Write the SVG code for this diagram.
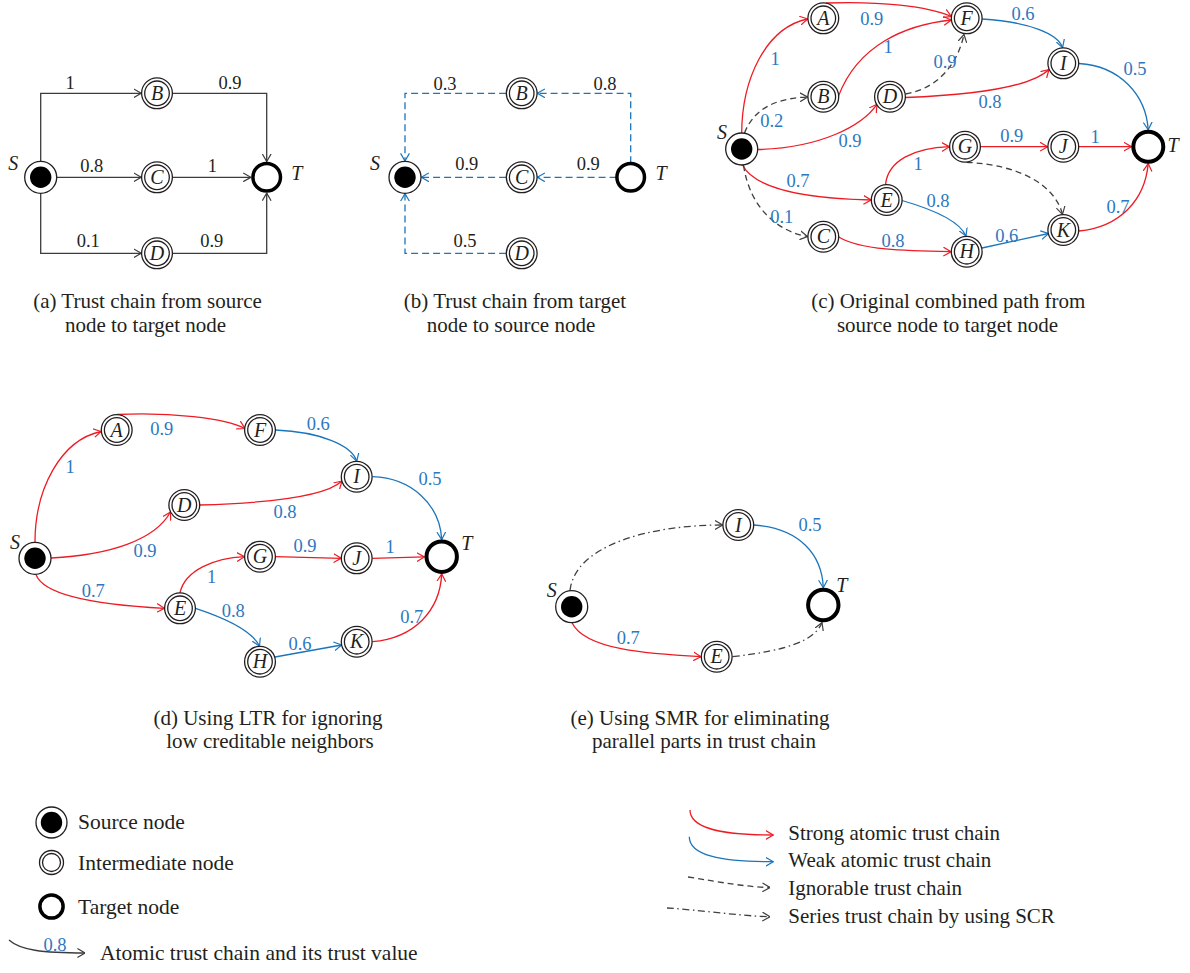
<svg xmlns="http://www.w3.org/2000/svg" width="1190" height="973" viewBox="0 0 1190 973">
<style>
text{font-family:"Liberation Serif","Times New Roman",serif;}
.o{fill:#fff;stroke:#231f20;stroke-width:1.3}
.sf{fill:#000}
.t{fill:#fff;stroke:#000;stroke-width:4}
.ta{fill:#fff;stroke:#000;stroke-width:3.5}
.nl{font-size:20px;font-style:italic;text-anchor:middle;fill:#231f20}
.st{font-size:20px;font-style:italic;fill:#231f20}
.lb{font-size:18.5px;text-anchor:middle;fill:#2e78bf}
.lk{font-size:18.5px;text-anchor:middle;fill:#231f20}
.cap{font-size:21px;text-anchor:middle;fill:#231f20}
.leg{font-size:21.5px;fill:#231f20}
.legr{font-size:21px;fill:#231f20}
.e{fill:none;stroke-width:1.3}
.k{stroke:#3c3c3c;marker-end:url(#mk)}
.r{stroke:#ed1c24;marker-end:url(#mr)}
.b{stroke:#1b75bb;marker-end:url(#mb)}
.bd{stroke:#1b75bb;stroke-dasharray:7 4;marker-end:url(#mb)}
.g{stroke:#404040;stroke-dasharray:6 4;marker-end:url(#mg)}
.dd{stroke:#404040;stroke-dasharray:7 3.5 1.5 3.5;marker-end:url(#mg)}
</style>
<defs>
<marker id="mk" viewBox="0 0 8 10" refX="7.6" refY="5" markerWidth="8" markerHeight="10" orient="auto" markerUnits="userSpaceOnUse"><path d="M0,0.6 L7.6,5 L0,9.4" fill="none" stroke="#3c3c3c" stroke-width="1.2"/></marker>
<marker id="mr" viewBox="0 0 8 10" refX="7.6" refY="5" markerWidth="8" markerHeight="10" orient="auto" markerUnits="userSpaceOnUse"><path d="M0,0.6 L7.6,5 L0,9.4" fill="none" stroke="#ed1c24" stroke-width="1.2"/></marker>
<marker id="mb" viewBox="0 0 8 10" refX="7.6" refY="5" markerWidth="8" markerHeight="10" orient="auto" markerUnits="userSpaceOnUse"><path d="M0,0.6 L7.6,5 L0,9.4" fill="none" stroke="#1b75bb" stroke-width="1.2"/></marker>
<marker id="mg" viewBox="0 0 8 10" refX="7.6" refY="5" markerWidth="8" markerHeight="10" orient="auto" markerUnits="userSpaceOnUse"><path d="M0,0.6 L7.6,5 L0,9.4" fill="none" stroke="#404040" stroke-width="1.2"/></marker>
</defs>
<rect width="1190" height="973" fill="#fff"/>

<!-- ===== Panel (a) ===== -->
<g id="edges-a">
<path class="e k" d="M40.7,161 V93.3 H141.2"/>
<path class="e k" d="M172.6,93.3 H266.7 V161.5"/>
<path class="e k" d="M57,177.3 H141.2"/>
<path class="e k" d="M172.6,177.3 H250.8"/>
<path class="e k" d="M40.7,193.6 V253.3 H141.2"/>
<path class="e k" d="M172.6,253.3 H266.7 V193.1"/>
<text class="lk" x="70" y="88.5">1</text>
<text class="lk" x="230" y="88.5">0.9</text>
<text class="lk" x="91.7" y="171.5">0.8</text>
<text class="lk" x="212.3" y="171.5">1</text>
<text class="lk" x="88.3" y="246.5">0.1</text>
<text class="lk" x="211.7" y="246.5">0.9</text>
</g>
<g id="a-S"><circle class="o" cx="40.7" cy="177.3" r="16"/><circle class="sf" cx="40.7" cy="177.3" r="10.7"/><text class="st" x="13.3" y="170" text-anchor="middle">S</text></g>
<g id="a-B"><circle class="o" cx="157" cy="93.3" r="15.4"/><circle class="o" cx="157" cy="93.3" r="12.3"/><text class="nl" x="157" y="100">B</text></g>
<g id="a-C"><circle class="o" cx="157" cy="177.3" r="15.4"/><circle class="o" cx="157" cy="177.3" r="12.3"/><text class="nl" x="157" y="184">C</text></g>
<g id="a-D"><circle class="o" cx="157" cy="253.3" r="15.4"/><circle class="o" cx="157" cy="253.3" r="12.3"/><text class="nl" x="157" y="260">D</text></g>
<g id="a-T"><circle class="ta" cx="266.7" cy="177.3" r="13.8"/><text class="st" x="296.7" y="180" text-anchor="middle">T</text></g>
<g id="cap-a"><text class="cap" x="147.5" y="308">(a) Trust chain from source</text><text class="cap" x="145.5" y="331.5">node to target node</text></g>

<!-- ===== Panel (b) ===== -->
<g id="edges-b">
<path class="e bd" d="M630.7,163.2 V93.3 H537.3"/>
<path class="e bd" d="M506.1,93.3 H405 V161"/>
<path class="e bd" d="M616.6,177.3 H537.3"/>
<path class="e bd" d="M506.1,177.3 H421.3"/>
<path class="e bd" d="M506.1,253.3 H405 V193.6"/>
<text class="lk" x="445" y="90">0.3</text>
<text class="lk" x="605" y="90">0.8</text>
<text class="lk" x="466.7" y="170">0.9</text>
<text class="lk" x="588.3" y="170">0.9</text>
<text class="lk" x="465" y="246.7">0.5</text>
</g>
<g id="b-S"><circle class="o" cx="405" cy="177.3" r="16"/><circle class="sf" cx="405" cy="177.3" r="10.7"/><text class="st" x="375" y="170" text-anchor="middle">S</text></g>
<g id="b-B"><circle class="o" cx="521.7" cy="93.3" r="15.4"/><circle class="o" cx="521.7" cy="93.3" r="12.3"/><text class="nl" x="521.7" y="100">B</text></g>
<g id="b-C"><circle class="o" cx="521.7" cy="177.3" r="15.4"/><circle class="o" cx="521.7" cy="177.3" r="12.3"/><text class="nl" x="521.7" y="184">C</text></g>
<g id="b-D"><circle class="o" cx="521.7" cy="253.3" r="15.4"/><circle class="o" cx="521.7" cy="253.3" r="12.3"/><text class="nl" x="521.7" y="260">D</text></g>
<g id="b-T"><circle class="ta" cx="630.7" cy="177.3" r="13.8"/><text class="st" x="661" y="180" text-anchor="middle">T</text></g>
<g id="cap-b"><text class="cap" x="515" y="308">(b) Trust chain from target</text><text class="cap" x="511" y="331.5">node to source node</text></g>

<!-- ===== Panel (c) ===== -->
<g id="edges-c">
<path class="e r" d="M741.7,133 C742,80 765,28 807.6,19"/>
<path class="e r" d="M826,3 C880,1 928,6 951.3,16.5"/>
<path class="e r" d="M838.5,96 C858,45 905,25 951.3,20"/>
<path class="e g" d="M905.5,94 C940,88 958,62 964,34.5"/>
<path class="e b" d="M982.2,19 C1030,22 1058,34 1062.6,47.6"/>
<path class="e r" d="M905.5,97.5 C970,95 1030,88 1049,69.5"/>
<path class="e b" d="M1079,63.5 C1120,66 1146,95 1148.2,129.8"/>
<path class="e g" d="M744.5,133 C755,106 780,98 807.6,97"/>
<path class="e r" d="M757.7,149.5 C820,148 862,126 877,104.3"/>
<path class="e r" d="M980.6,146.7 L1047.6,146.7"/>
<path class="e r" d="M1078.9,146.7 L1131.4,146.7"/>
<path class="e r" d="M885.5,184.6 C888,160 915,148 949.4,146.7"/>
<path class="e g" d="M966.5,162.3 C1020,165 1055,185 1062.5,214.4"/>
<path class="e r" d="M742.5,165 C758,195 830,199 871.1,200"/>
<path class="e b" d="M902,200.5 C935,210 960,222 966,236"/>
<path class="e g" d="M743.5,165 C750,210 780,232 807.6,236.5"/>
<path class="e r" d="M838.8,237 C860,250 905,251 951,251.7"/>
<path class="e b" d="M982,248 L1048.6,233.5"/>
<path class="e r" d="M1078.9,231 C1120,227 1145,200 1148.2,163.6"/>
<text class="lb" x="871.7" y="25">0.9</text>
<text class="lb" x="775" y="65">1</text>
<text class="lb" x="888" y="53">1</text>
<text class="lb" x="1023" y="20">0.6</text>
<text class="lb" x="945" y="68">0.9</text>
<text class="lb" x="1135" y="75">0.5</text>
<text class="lb" x="771.7" y="127">0.2</text>
<text class="lb" x="990" y="108">0.8</text>
<text class="lb" x="850" y="147">0.9</text>
<text class="lb" x="1011.7" y="142">0.9</text>
<text class="lb" x="1095" y="143">1</text>
<text class="lb" x="918" y="170">1</text>
<text class="lb" x="798" y="187">0.7</text>
<text class="lb" x="938" y="207">0.8</text>
<text class="lb" x="781.7" y="223">0.1</text>
<text class="lb" x="1118" y="213">0.7</text>
<text class="lb" x="893" y="247">0.8</text>
<text class="lb" x="1006.7" y="242">0.6</text>
</g>
<g id="c-S"><circle class="o" cx="741.7" cy="149" r="16"/><circle class="sf" cx="741.7" cy="149" r="10.7"/><text class="st" x="727" y="139" text-anchor="end">S</text></g>
<g id="c-A"><circle class="o" cx="823.3" cy="18.3" r="15.4"/><circle class="o" cx="823.3" cy="18.3" r="12.3"/><text class="nl" x="823.3" y="25">A</text></g>
<g id="c-F"><circle class="o" cx="966.7" cy="18.3" r="15.4"/><circle class="o" cx="966.7" cy="18.3" r="12.3"/><text class="nl" x="966.7" y="25">F</text></g>
<g id="c-B"><circle class="o" cx="823.3" cy="96.7" r="15.4"/><circle class="o" cx="823.3" cy="96.7" r="12.3"/><text class="nl" x="823.3" y="103.4">B</text></g>
<g id="c-D"><circle class="o" cx="890" cy="96.7" r="15.4"/><circle class="o" cx="890" cy="96.7" r="12.3"/><text class="nl" x="890" y="103.4">D</text></g>
<g id="c-I"><circle class="o" cx="1063.3" cy="63.3" r="15.4"/><circle class="o" cx="1063.3" cy="63.3" r="12.3"/><text class="nl" x="1063.3" y="70">I</text></g>
<g id="c-G"><circle class="o" cx="965" cy="146.7" r="15.4"/><circle class="o" cx="965" cy="146.7" r="12.3"/><text class="nl" x="965" y="153.4">G</text></g>
<g id="c-J"><circle class="o" cx="1063.3" cy="146.7" r="15.4"/><circle class="o" cx="1063.3" cy="146.7" r="12.3"/><text class="nl" x="1063.3" y="153.4">J</text></g>
<g id="c-E"><circle class="o" cx="886.7" cy="200" r="15.4"/><circle class="o" cx="886.7" cy="200" r="12.3"/><text class="nl" x="886.7" y="206.7">E</text></g>
<g id="c-C"><circle class="o" cx="823.3" cy="236.7" r="15.4"/><circle class="o" cx="823.3" cy="236.7" r="12.3"/><text class="nl" x="823.3" y="243.4">C</text></g>
<g id="c-H"><circle class="o" cx="966.7" cy="251.7" r="15.4"/><circle class="o" cx="966.7" cy="251.7" r="12.3"/><text class="nl" x="966.7" y="258.4">H</text></g>
<g id="c-K"><circle class="o" cx="1063.3" cy="230" r="15.4"/><circle class="o" cx="1063.3" cy="230" r="12.3"/><text class="nl" x="1063.3" y="236.7">K</text></g>
<g id="c-T"><circle class="t" cx="1148.3" cy="146.7" r="15"/><text class="st" x="1173" y="152" text-anchor="middle">T</text></g>
<g id="cap-c"><text class="cap" x="948.3" y="308">(c) Original combined path from</text><text class="cap" x="947.5" y="331.5">source node to target node</text></g>

<!-- ===== Panel (d) ===== -->
<g id="edges-d">
<path class="e r" d="M35,542 C35,490 60,440 101.2,431.5"/>
<path class="e r" d="M117,414.5 C170,412 225,418 245,428.5"/>
<path class="e b" d="M275.5,430 C320,432 352,445 356.7,461.2"/>
<path class="e r" d="M199.8,505 C270,503 325,497 342,481"/>
<path class="e b" d="M372.5,476.7 C412,478 440,505 441.7,539.6"/>
<path class="e r" d="M51,558 C110,555 155,540 170.5,512"/>
<path class="e r" d="M275.5,556.7 L341.2,558.3"/>
<path class="e r" d="M372.3,558.3 L424.4,556.9"/>
<path class="e r" d="M180,592.8 C185,570 215,558 244.5,556.7"/>
<path class="e r" d="M36,574.5 C45,600 120,606 164.5,608.3"/>
<path class="e b" d="M195.5,608.3 C225,618 252,630 259.5,646.2"/>
<path class="e b" d="M275,657 L341.6,645"/>
<path class="e r" d="M372.3,641.7 C415,638 440,610 441.7,573.9"/>
<text class="lb" x="70" y="473">1</text>
<text class="lb" x="161.7" y="435">0.9</text>
<text class="lb" x="318.3" y="430">0.6</text>
<text class="lb" x="430" y="485">0.5</text>
<text class="lb" x="285" y="518">0.8</text>
<text class="lb" x="145" y="557">0.9</text>
<text class="lb" x="305" y="552">0.9</text>
<text class="lb" x="390" y="553">1</text>
<text class="lb" x="211.7" y="583">1</text>
<text class="lb" x="93.3" y="597">0.7</text>
<text class="lb" x="233.3" y="617">0.8</text>
<text class="lb" x="411.7" y="623">0.7</text>
<text class="lb" x="300" y="650">0.6</text>
</g>
<g id="d-S"><circle class="o" cx="35" cy="558.3" r="16"/><circle class="sf" cx="35" cy="558.3" r="10.7"/><text class="st" x="15" y="549" text-anchor="middle">S</text></g>
<g id="d-A"><circle class="o" cx="116.7" cy="430" r="15.4"/><circle class="o" cx="116.7" cy="430" r="12.3"/><text class="nl" x="116.7" y="436.7">A</text></g>
<g id="d-F"><circle class="o" cx="260" cy="430" r="15.4"/><circle class="o" cx="260" cy="430" r="12.3"/><text class="nl" x="260" y="436.7">F</text></g>
<g id="d-I"><circle class="o" cx="356.7" cy="476.7" r="15.4"/><circle class="o" cx="356.7" cy="476.7" r="12.3"/><text class="nl" x="356.7" y="483.4">I</text></g>
<g id="d-D"><circle class="o" cx="184.3" cy="505" r="15.4"/><circle class="o" cx="184.3" cy="505" r="12.3"/><text class="nl" x="184.3" y="511.7">D</text></g>
<g id="d-G"><circle class="o" cx="260" cy="556.7" r="15.4"/><circle class="o" cx="260" cy="556.7" r="12.3"/><text class="nl" x="260" y="563.4">G</text></g>
<g id="d-J"><circle class="o" cx="356.7" cy="558.3" r="15.4"/><circle class="o" cx="356.7" cy="558.3" r="12.3"/><text class="nl" x="356.7" y="565">J</text></g>
<g id="d-E"><circle class="o" cx="180" cy="608.3" r="15.4"/><circle class="o" cx="180" cy="608.3" r="12.3"/><text class="nl" x="180" y="615">E</text></g>
<g id="d-H"><circle class="o" cx="260" cy="661.7" r="15.4"/><circle class="o" cx="260" cy="661.7" r="12.3"/><text class="nl" x="260" y="668.4">H</text></g>
<g id="d-K"><circle class="o" cx="356.7" cy="641.7" r="15.4"/><circle class="o" cx="356.7" cy="641.7" r="12.3"/><text class="nl" x="356.7" y="648.4">K</text></g>
<g id="d-T"><circle class="t" cx="441.7" cy="556.7" r="15.2"/><text class="st" x="466.7" y="550" text-anchor="middle">T</text></g>
<g id="cap-d"><text class="cap" x="268" y="724.5">(d) Using LTR for ignoring</text><text class="cap" x="270" y="748">low creditable neighbors</text></g>

<!-- ===== Panel (e) ===== -->
<g id="edges-e">
<path class="e dd" d="M570,590.5 C575,545 650,525 722.6,525"/>
<path class="e b" d="M754,525 C800,528 822,555 823.3,587.7"/>
<path class="e r" d="M572,622.7 C585,650 650,654 701,656.7"/>
<path class="e dd" d="M732.5,656.7 C790,650 815,640 822,622.5"/>
<text class="lb" x="810" y="531">0.5</text>
<text class="lb" x="628.3" y="644">0.7</text>
</g>
<g id="e-S"><circle class="o" cx="571.7" cy="606.7" r="16"/><circle class="sf" cx="571.7" cy="606.7" r="10.7"/><text class="st" x="551.7" y="597" text-anchor="middle">S</text></g>
<g id="e-I"><circle class="o" cx="738.3" cy="525" r="15.4"/><circle class="o" cx="738.3" cy="525" r="12.3"/><text class="nl" x="738.3" y="531.7">I</text></g>
<g id="e-E"><circle class="o" cx="716.7" cy="656.7" r="15.4"/><circle class="o" cx="716.7" cy="656.7" r="12.3"/><text class="nl" x="716.7" y="663.4">E</text></g>
<g id="e-T"><circle class="t" cx="823.3" cy="605" r="15.2"/><text class="st" x="841.7" y="592" text-anchor="middle">T</text></g>
<g id="cap-e"><text class="cap" x="700" y="724.5">(e) Using SMR for eliminating</text><text class="cap" x="704" y="748">parallel parts in trust chain</text></g>

<!-- ===== Legend ===== -->
<g id="legend-source"><circle class="o" cx="51.5" cy="822.5" r="15.5" stroke-width="1.5"/><circle class="sf" cx="51.5" cy="822.5" r="10.7"/><text class="leg" x="78" y="829">Source node</text></g>
<g id="legend-intermediate"><circle class="o" cx="51.5" cy="862.5" r="12"/><circle class="o" cx="51.5" cy="862.5" r="9"/><text class="leg" x="78" y="870">Intermediate node</text></g>
<g id="legend-target"><circle class="ta" cx="51.5" cy="906.5" r="11.6"/><text class="leg" x="78" y="914">Target node</text></g>
<g id="legend-atomic"><path class="e k" d="M9,940 C20,950 42,953 85,953"/><text x="55" y="950.5" font-size="18.5" fill="#2e78bf" text-anchor="middle">0.8</text><text class="leg" x="100" y="960">Atomic trust chain and its trust value</text></g>
<g id="legend-strong"><path class="e r" d="M690,810 C690,828 720,835 773.3,835"/><text class="legr" x="788.3" y="840">Strong atomic trust chain</text></g>
<g id="legend-weak"><path class="e b" d="M689.3,836.7 C689.3,855 720,862 773.3,861.7"/><text class="legr" x="788.3" y="867.3">Weak atomic trust chain</text></g>
<g id="legend-ignorable"><path class="e g" d="M688,877 C720,882 745,887 770,887.5"/><text class="legr" x="788.3" y="895">Ignorable trust chain</text></g>
<g id="legend-series"><path class="e dd" d="M667,908 C700,910 740,916 770,916.7"/><text class="legr" x="788.3" y="923.3">Series trust chain by using SCR</text></g>
</svg>
